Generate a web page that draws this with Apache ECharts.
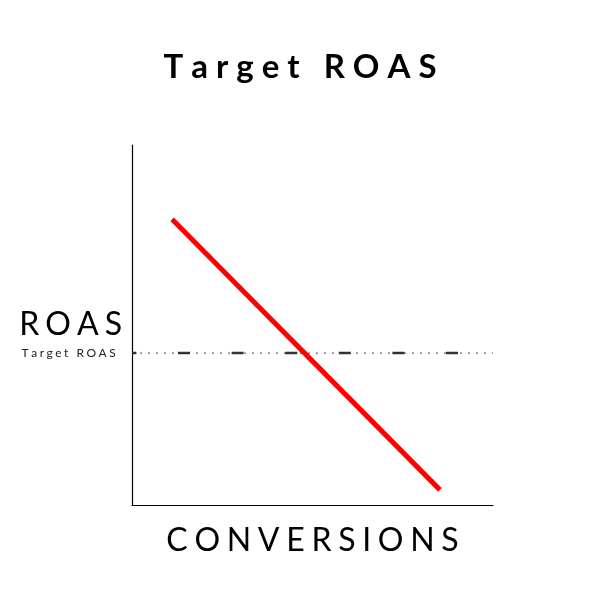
<!DOCTYPE html>
<html>
<head>
<meta charset="utf-8">
<title>Target ROAS</title>
<script src="https://cdn.jsdelivr.net/npm/echarts@6/dist/echarts.min.js"></script>
<style>
  html, body { margin: 0; padding: 0; background: #fff; }
  #chart { width: 600px; height: 600px; }
</style>
</head>
<body>
<div id="chart"></div>
<script>
// data (both axes run 0..100, no ticks shown)
var roasLine = [[11.1, 79.4], [85.3, 4.2]];
var targetRoas = 42.2;
var targetSpan = [0, 100];
var titleText = 'Target ROAS';
var xName = 'CONVERSIONS';
var yName = 'ROAS';
var targetLabel = 'Target ROAS';

// echarts has no letter-spacing, so every char becomes its own rich fragment with padding
function spaced(str, key) {
    var out = '';
    for (var i = 0; i < str.length; i++) {
        out += '{' + key + '|' + str.charAt(i) + '}';
    }
    return out;
}

var chart = echarts.init(document.getElementById('chart'));

var targetData = [[targetSpan[0], targetRoas], [targetSpan[1], targetRoas]];

var option = {
    animation: false,
    backgroundColor: '#fff',
    title: {
        text: spaced(titleText, 't'),
        left: 'center',
        top: 46,
        textStyle: {
            rich: {
                t: { fontFamily: 'Lato', fontWeight: 'bold', fontSize: 33, color: '#000', padding: [0, 4] }
            }
        }
    },
    // v6 pulls the grid in to fit names/labels by default, keep it fixed
    grid: { left: 132, right: 107, top: 145, bottom: 95, outerBoundsMode: 'none', containLabel: false },
    xAxis: {
        type: 'value',
        min: 0,
        max: 100,
        name: spaced(xName, 'n'),
        nameLocation: 'middle',
        nameGap: 20,
        nameMoveOverlap: false,
        nameTextStyle: {
            rich: {
                n: { fontFamily: 'Lato', fontSize: 32, color: '#000', padding: [0, 3.35] }
            }
        },
        axisLine: { lineStyle: { color: '#000', width: 1.2 } },
        axisTick: { show: false },
        axisLabel: { show: false },
        splitLine: { show: false }
    },
    yAxis: {
        type: 'value',
        min: 0,
        max: 100,
        name: spaced(yName, 'n'),
        nameLocation: 'middle',
        nameRotate: 0,
        nameGap: 7,
        nameMoveOverlap: false,
        nameTextStyle: {
            rich: {
                n: { fontFamily: 'Lato', fontSize: 32, color: '#000', padding: [0, 3] }
            }
        },
        axisLine: { lineStyle: { color: '#000', width: 1.2 } },
        axisTick: { show: false },
        axisLabel: {
            show: true,
            customValues: [targetRoas],
            margin: 15,
            formatter: function () { return spaced(targetLabel, 'l'); },
            rich: {
                l: { fontFamily: 'Lato', fontSize: 12, color: '#222', padding: [0, 1.25] }
            }
        },
        splitLine: { show: false }
    },
    series: [
        {
            type: 'line',
            data: roasLine,
            symbol: 'none',
            lineStyle: { color: '#ff0000', width: 5, cap: 'butt' },
            silent: true
        },
        {
            // fine dotted part of the target line
            type: 'line',
            data: targetData,
            symbol: 'none',
            lineStyle: { color: '#444', width: 1, type: [2, 6] },
            silent: true
        },
        {
            // long dashes of the target line
            type: 'line',
            data: targetData,
            symbol: 'none',
            lineStyle: { color: '#333', width: 2.5, type: [12, 41.6], dashOffset: 7.6 },
            silent: true
        }
    ]
};

chart.setOption(option);
</script>
</body>
</html>
